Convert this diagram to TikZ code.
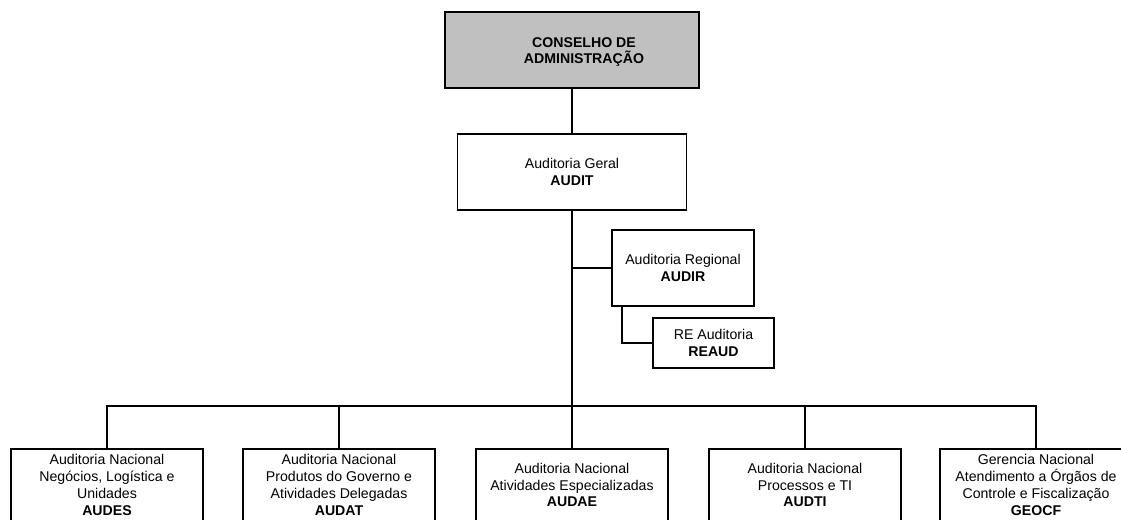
\documentclass[tikz,border=0pt]{standalone}
\usepackage{fontspec}
\setmainfont{Liberation Sans}
\definecolor{boxgray}{RGB}{192,192,192}
\begin{document}
\begin{tikzpicture}[x=0.75pt,y=-0.75pt,
  every node/.style={font=\fontsize{10.6}{12.6}\selectfont},
  orgbox/.style={draw=black,line width=1.2pt,fill=white,inner sep=0pt,align=center,anchor=center},
  bottombox/.style={orgbox,minimum width=144pt,minimum height=54pt},
  conn/.style={draw=black,line width=1.2pt}]
\useasboundingbox (0,0) rectangle (1121,520);
\clip (0,0) rectangle (1121,520);
\fill[white] (0,0) rectangle (1121,520);

% top
\node[orgbox,fill=boxgray,minimum width=190.5pt,minimum height=57pt] (cons) at (572,50) {};
\node[align=center,inner sep=0pt] (consT) at (584,52) {\textbf{CONSELHO DE}\\\textbf{ADMINISTRAÇÃO}};

\node[orgbox,minimum width=171.75pt,minimum height=57pt] (audit) at (572,172) {Auditoria Geral\\\textbf{AUDIT}};
\node[orgbox,minimum width=106.5pt,minimum height=57pt] (audir) at (683,268) {Auditoria Regional\\\textbf{AUDIR}};
\node[orgbox,minimum width=90.75pt,minimum height=37.5pt] (reaud) at (713.5,343) {RE Auditoria\\\textbf{REAUD}};

% bottom row
\node[bottombox] (b1) at (107,485) {Auditoria Nacional\\Negócios, Logística e\\Unidades\\\textbf{AUDES}};
\node[bottombox] (b2) at (339,485) {Auditoria Nacional\\Produtos do Governo e\\Atividades Delegadas\\\textbf{AUDAT}};
\node[bottombox] (b3) at (572,485) {Auditoria Nacional\\Atividades Especializadas\\\textbf{AUDAE}};
\node[bottombox] (b4) at (805,485) {Auditoria Nacional\\Processos e TI\\\textbf{AUDTI}};
\node[bottombox] (b5) at (1036,485) {Gerencia Nacional\\Atendimento a Órgãos de\\Controle e Fiscalização\\\textbf{GEOCF}};

\coordinate (bus) at (572,406);

% connectors
\draw[conn] (cons.south) -- (audit.north);
\draw[conn] (audit.south) -- (bus);
\draw[conn] (audir.west) -- (audir.west -| audit.south);
\draw[conn] ([xshift=8.25pt]audir.south west) |- (reaud.west);
\draw[conn] (b1.north) |- (bus) -| (b5.north);
\draw[conn] (b2.north) -- (b2.north |- bus);
\draw[conn] (b3.north) -- (bus);
\draw[conn] (b4.north) -- (b4.north |- bus);
\end{tikzpicture}
\end{document}
